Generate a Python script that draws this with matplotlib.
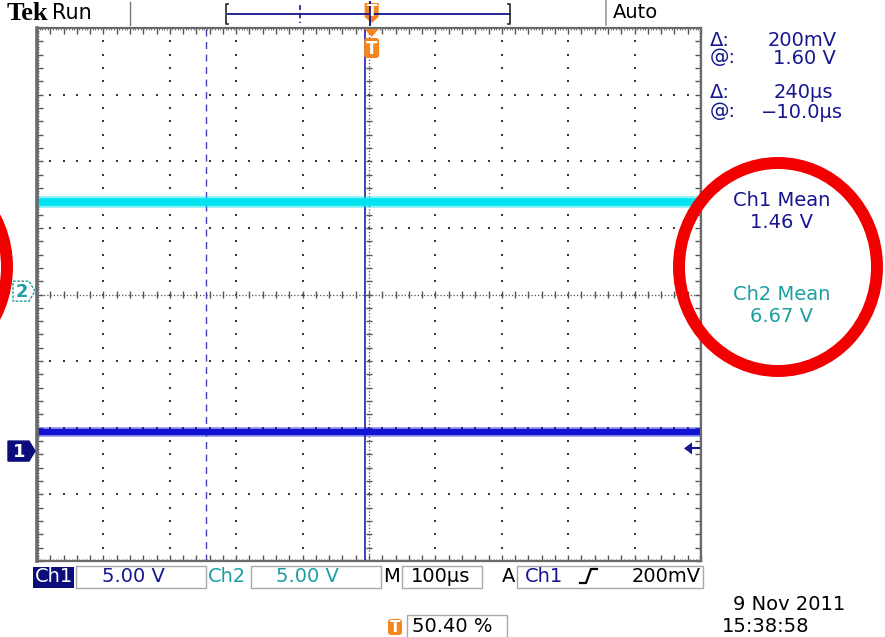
import numpy as np
import matplotlib.pyplot as plt
from matplotlib.patches import Rectangle, Ellipse, Polygon, FancyBboxPatch

# scope settings and readouts
time_per_div = 100          # µs / div
volts_per_div = [5.0, 5.0]  # ch1, ch2
trigger_pos_pct = 50.40
trigger_level = 0.2         # V, on ch1
ch_ground = [-2.35, 0.05]   # ground markers, in divisions
ch_mean = [1.46, 6.67]      # V
cursor_t = [-250, -10]      # µs
cursor_v = [1.60, 0.200]    # @, delta (V)
date_txt = ["9 Nov 2011", "15:38:58"]

navy = "#16168f"
ch1_col = "#1212d4"
ch2_col = "#00e4ef"
teal = "#1b9fa3"
orange = "#f5861f"
curs_col = "#4040b8"
dot_col = "#3a3a3a"

W, H = 885, 637
L, R, T, B = 37, 701, 28, 561   # graticule in pixels

fig = plt.figure(figsize=(W / 100, H / 100), dpi=100)
ax = fig.add_axes([L / W, 1 - B / H, (R - L) / W, (B - T) / H])
t0 = -trigger_pos_pct / 100 * 10 * time_per_div
ax.set_xlim(t0, t0 + 10 * time_per_div)
ax.set_ylim(-4, 4)

# graticule
xs_minor = t0 + time_per_div * np.arange(0, 10.001, 0.2)
ys_minor = np.arange(-4, 4.001, 0.2)
for k in range(1, 10):
    if k == 5:
        continue
    x = t0 + k * time_per_div
    ax.plot(np.full(len(ys_minor), x), ys_minor, "s", ms=1.5, color=dot_col, mew=0)
for k in range(-3, 4):
    if k == 0:
        continue
    ax.plot(xs_minor, np.full(len(xs_minor), k), "s", ms=1.5, color=dot_col, mew=0)

xc = t0 + 5 * time_per_div
ax.axvline(xc, ls=(0, (1, 1.6)), lw=0.9, color="#555555")
ax.axhline(0, ls=(0, (1, 1.6)), lw=0.9, color="#555555")
ax.hlines(ys_minor, xc - 5, xc + 5, lw=1.0, color="#555555")
ax.vlines(xs_minor, -0.06, 0.06, lw=1.0, color="#555555")

ax.set_xticks(xs_minor)
ax.set_yticks(ys_minor)
ax.set_xticks(t0 + time_per_div * np.arange(0, 10.001, 0.04), minor=True)
ax.set_yticks(np.arange(-4, 4.001, 0.04), minor=True)
ax.tick_params(which="major", direction="in", length=4, width=1, color="#555555",
               top=True, right=True, labelbottom=False, labelleft=False)
ax.tick_params(which="minor", direction="in", length=1.5, width=0.8, color="#777777",
               top=True, right=True)
for s in ax.spines.values():
    s.set_color("#6a6a6a")
    s.set_linewidth(1.6)
ax.spines["left"].set_linewidth(2.6)

# cursors
ax.axvline(cursor_t[0], ls=(0, (5, 4)), lw=1.0, color=curs_col)
ax.axvline(cursor_t[1], lw=1.4, color=curs_col)

# traces (mean level of each channel)
tx = [t0, t0 + 10 * time_per_div]
lv1 = ch_ground[0] + ch_mean[0] / volts_per_div[0]
lv2 = ch_ground[1] + ch_mean[1] / volts_per_div[1]
ax.plot(tx, [lv2, lv2], color=ch2_col, lw=8.5, alpha=0.45, solid_capstyle="butt")
ax.plot(tx, [lv2, lv2], color=ch2_col, lw=5.5, solid_capstyle="butt")
ax.plot(tx, [lv1, lv1], color=ch1_col, lw=7.0, alpha=0.45, solid_capstyle="butt")
ax.plot(tx, [lv1, lv1], color=ch1_col, lw=4.5, solid_capstyle="butt")

# overlay in pixel coordinates
ov = fig.add_axes([0, 0, 1, 1], zorder=5)
ov.set_xlim(0, W)
ov.set_ylim(H, 0)
ov.axis("off")
ov.patch.set_alpha(0)


def py(div):
    return T + (4 - div) / 8 * (B - T)


fs = 14
txt = dict(fontsize=fs, family="DejaVu Sans", va="center")

# top bar
ov.text(7, 14, "Tek", fontsize=19, family="Liberation Serif", weight="bold", va="center")
ov.text(52, 13, "Run", fontsize=15, va="center")
ov.plot([130, 130], [2, 25], color="#777777", lw=1)
ov.plot([606, 606], [0, 25], color="#999999", lw=1.2)
ov.text(613, 13, "Auto", **txt)
ov.plot([228, 510], [14, 14], color=navy, lw=1.3)
ov.plot([228, 226, 226, 228], [4, 4, 24, 24], color="#222222", lw=1.2)
ov.plot([508, 510, 510, 508], [4, 4, 24, 24], color="#222222", lw=1.2)
ov.plot([300, 300], [5, 23], color=navy, lw=1.2, ls=(0, (3, 2)))
xt = L + trigger_pos_pct / 100 * (R - L)
ov.add_patch(Polygon([(xt - 7, 3), (xt + 7, 3), (xt + 7, 17), (xt, 23), (xt - 7, 17)],
                     closed=True, fc=orange, ec="none"))
ov.text(xt, 11, "T", color="white", fontsize=11, weight="bold", ha="center", va="center")
ov.plot([xt - 2, xt - 2], [2, 25], color=navy, lw=1.4)

# trigger marker below top edge
ov.add_patch(Polygon([(xt - 7, 29), (xt + 7, 29), (xt, 37)], closed=True, fc=orange, ec="none"))
ov.add_patch(FancyBboxPatch((xt - 7.5, 38), 15, 20, boxstyle="round,pad=0,rounding_size=3",
                            fc=orange, ec="none"))
ov.text(xt, 48.5, "T", color="white", fontsize=12, weight="bold", ha="center", va="center")

# channel ground markers
y2 = py(ch_ground[1])
ov.add_patch(Polygon([(13, y2 - 10), (29, y2 - 10), (35, y2), (29, y2 + 10), (13, y2 + 10)],
                     closed=True, fc="white", ec=teal, lw=1, ls=(0, (2, 1))))
ov.text(22, y2 + 1, "2", color=teal, fontsize=13, weight="bold", ha="center", va="center")
y1 = py(ch_ground[0])
ov.add_patch(Polygon([(8, y1 - 10), (29, y1 - 10), (35, y1), (29, y1 + 10), (8, y1 + 10)],
                     closed=True, fc="#0c0c7a", ec="#0c0c7a", lw=1))
ov.text(19, y1 + 1, "1", color="white", fontsize=13, weight="bold", ha="center", va="center")

# trigger level arrow
yl = py(ch_ground[0] + trigger_level / volts_per_div[0])
ov.add_patch(Polygon([(684, yl), (692, yl - 6), (692, yl + 6)], closed=True, fc=navy, ec="none"))
ov.plot([690, 699], [yl, yl], color=navy, lw=1.5)

# cursor readouts
dv = f"{cursor_v[1] * 1000:.0f}mV"
ov.text(710, 40, "Δ:", color=navy, **txt)
ov.text(837, 40, dv, color=navy, ha="right", fontsize=fs, va="center")
ov.text(710, 58, "@:", color=navy, **txt)
ov.text(836, 58, f"{cursor_v[0]:.2f} V", color=navy, ha="right", fontsize=fs, va="center")
ov.text(710, 92, "Δ:", color=navy, **txt)
ov.text(833, 92, f"{cursor_t[1] - cursor_t[0]}µs", color=navy, ha="right", fontsize=fs, va="center")
ov.text(710, 112, "@:", color=navy, **txt)
ov.text(843, 112, f"−{abs(cursor_t[1]):.1f}µs", color=navy, ha="right", fontsize=fs, va="center")

# measurements
ov.text(782, 201, "Ch1 Mean", color=navy, ha="center", fontsize=fs, va="center")
ov.text(782, 222, f"{ch_mean[0]:.2f} V", color=navy, ha="center", fontsize=fs, va="center")
ov.text(782, 295, "Ch2 Mean", color=teal, ha="center", fontsize=fs, va="center")
ov.text(782, 317, f"{ch_mean[1]:.2f} V", color=teal, ha="center", fontsize=fs, va="center")

# bottom bar
yb = 577
ov.add_patch(Rectangle((33, 567), 41, 21, fc="#0c0c7a", ec="none"))
ov.text(53.5, yb, "Ch1", color="white", ha="center", fontsize=fs, va="center")
for x0, x1 in [(76, 206), (251, 381), (402, 482), (517, 703)]:
    ov.add_patch(Rectangle((x0, 566), x1 - x0, 22, fc="none", ec="#a8a8a8", lw=1))
ov.text(133, yb, f"{volts_per_div[0]:.2f} V", color=navy, ha="center", fontsize=fs, va="center")
ov.text(208, yb, "Ch2", color=teal, **txt)
ov.text(307, yb, f"{volts_per_div[1]:.2f} V", color=teal, ha="center", fontsize=fs, va="center")
ov.text(383, yb, "M", color="black", **txt)
ov.text(411, yb, f"{time_per_div}µs", color="black", **txt)
ov.text(502, yb, "A", color="black", **txt)
ov.text(525, yb, "Ch1", color=navy, **txt)
ov.plot([580, 586, 591, 597], [583, 583, 569, 569], color="black", lw=1.6)
ov.text(701, yb, f"{trigger_level * 1000:.0f}mV", color="black", ha="right", fontsize=fs, va="center")

# trigger position
ov.add_patch(FancyBboxPatch((388, 619), 14, 16, boxstyle="round,pad=0,rounding_size=3",
                            fc=orange, ec="none"))
ov.text(395, 627.5, "T", color="white", fontsize=11, weight="bold", ha="center", va="center")
ov.add_patch(Rectangle((407, 615), 100, 24, fc="none", ec="#a8a8a8", lw=1))
ov.text(412, 627, f"{trigger_pos_pct:.2f} %", color="black", **txt)

ov.text(733, 605, date_txt[0], color="black", **txt)
ov.text(722, 627, date_txt[1], color="black", **txt)

# red highlight circles
ov.add_patch(Ellipse((778, 267), 198, 208, fill=False, ec="#f20000", lw=8.6))
ov.add_patch(Ellipse((-92, 267), 198, 208, fill=False, ec="#f20000", lw=8.6))

fig.savefig("out.png", dpi=100)
